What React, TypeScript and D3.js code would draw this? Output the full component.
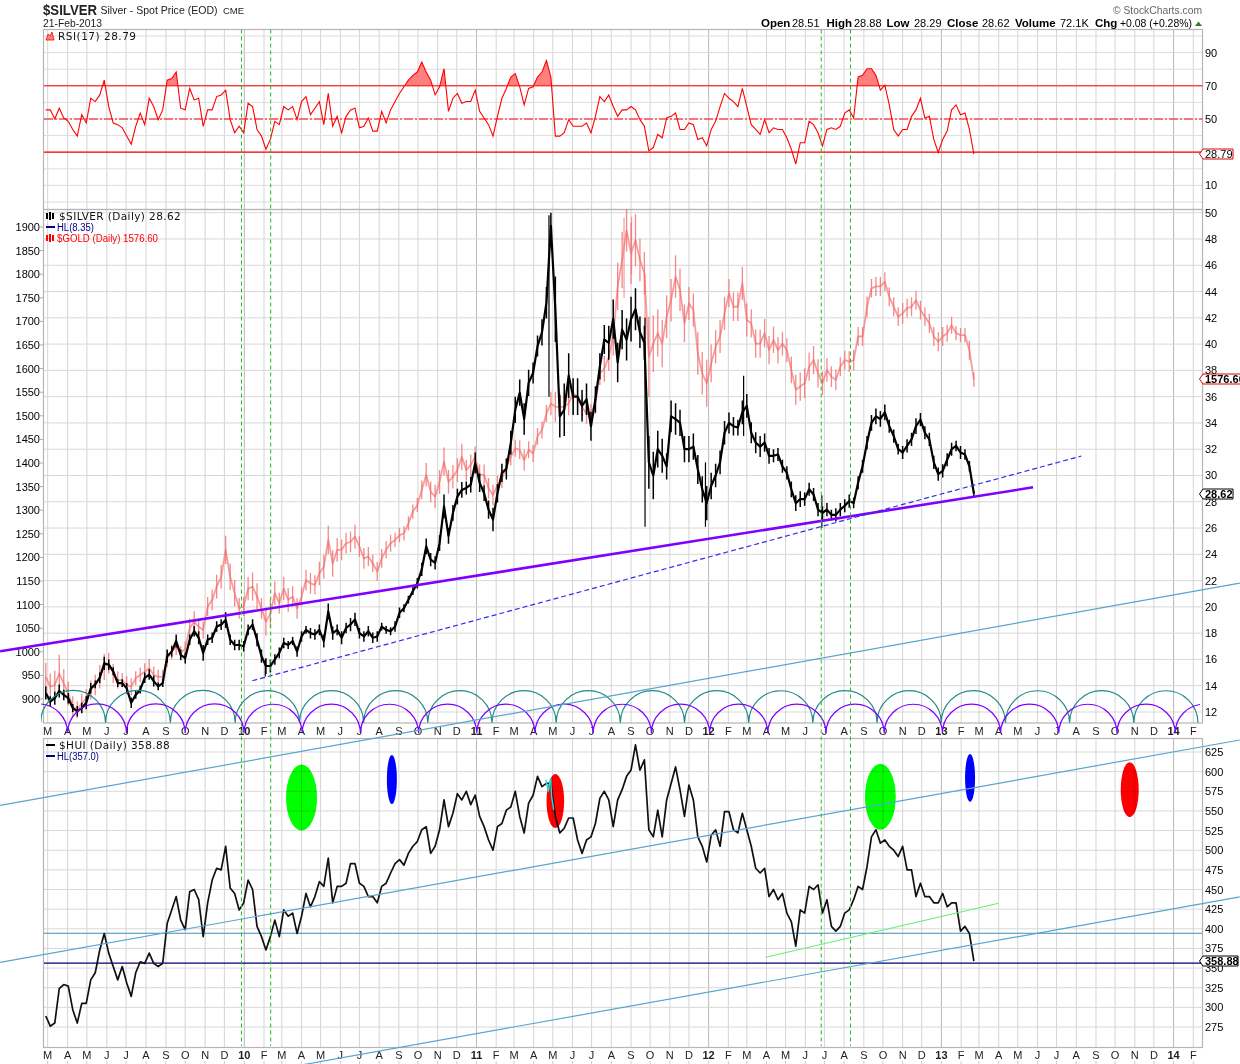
import React from "react";
import * as d3 from "d3";

// Weekly readings (Thursdays), 26 Feb 2009 .. 21 Feb 2013
const silverClose = [
  13.45,12.8,13.05,13.6,13.3,13.05,12.3,12.05,12.3,12.7,
  13.8,14.1,14.6,15.7,15.6,15.1,14.2,14.2,13.8,12.7,
  13.3,13.7,14.6,14.85,14.35,13.95,14.2,16.25,16.6,17.4,
  16.35,16.1,17.5,18.15,17.65,16.5,17.5,17.65,18.5,18.65,
  19.0,17.5,17.1,17.1,17.0,18.25,18.65,17.5,16.25,15.5,
  15.5,16,16.5,17.25,17.1,17.4,16.6,17.75,18.25,18,
  17.9,18.25,17.4,19.65,18,18.25,17.65,18.4,18.65,19.05,
  18,17.75,18.15,17.65,17.75,18.5,18.25,18.15,18.5,19.55,
  19.9,20.55,21.2,21.8,22.85,24.6,23.6,23.35,24.85,27.65,
  25.4,27.15,28.4,28.9,29.05,29.3,30.95,29.45,28.65,27.4,
  26.65,28.65,30.2,30.5,32.5,35,36.3,34.3,37.05,37.8,
  39.85,40.9,43.15,49,42.65,34.5,35,37.6,36,36,
  35.3,35.8,33.75,35.8,38.3,40.35,40.1,41.9,38.6,41.1,
  40.35,41.9,42.65,40.9,40.1,31,30,32,31.5,30.7,
  34.5,34.3,34,32,32,32.2,30.45,28.95,27.9,29.2,
  30,31,33.25,34,33.75,33.65,34.8,35.3,33.25,32.5,
  32.2,32.5,31.5,31.5,31.6,30.7,30.2,28.95,27.9,28.2,
  28.2,28.95,28.55,27.4,27.15,27.4,27,27,27.4,27.7,
  28.05,27.9,29.45,30.7,32.5,34,34.5,34.3,34.8,33.75,
  33,32,31.75,32.25,32.75,33.75,34.25,33.25,32.75,31,
  30.1,30.35,31.2,32,32.25,31.75,31.6,30.7,28.62,
];
// half height of each week's visible trading range
const silverSwing = [
  .5,.4,.5,.5,.4,.4,.3,.4,.4,.5,
  .4,.3,.4,.5,.4,.3,.3,.3,.4,.4,
  .3,.3,.4,.4,.4,.3,.3,.5,.4,.5,
  .4,.4,.4,.4,.5,.6,.4,.4,.4,.4,
  .6,.4,.4,.4,.4,.4,.4,.5,.5,.6,
  .5,.4,.4,.4,.3,.3,.4,.4,.3,.4,
  .4,.4,.5,.6,.5,.4,.5,.4,.5,.5,
  .4,.4,.4,.4,.4,.3,.3,.3,.4,.4,
  .3,.3,.3,.4,.5,.6,.5,.5,.6,.9,
  .6,.6,.6,.6,.5,.6,.8,.7,.6,.7,
  .9,.7,.7,.8,.9,1,1,1.2,1,.8,
  .8,1,1.2,1,2.5,1.6,2,1.7,1.4,1.4,
  1.2,1.2,1.1,1,1,1.1,1.3,1.5,1.5,1.5,
  1.6,1.7,1.6,1.2,1.3,2,1.8,1.4,1.3,1,
  1.2,1.2,1,1,1,1,1.1,1,1.3,1,
  .9,.9,.9,.8,.7,.6,.9,.9,.8,.8,
  .8,.7,.6,.5,.5,.5,.5,.6,.6,.6,
  .5,.5,.5,.5,.5,.5,.4,.5,.5,.5,
  .5,.4,.5,.5,.5,.6,.6,.6,.6,.5,
  .5,.4,.5,.5,.5,.6,.5,.5,.5,.5,
  .5,.5,.5,.5,.4,.5,.4,.4,.2,
];
const goldClose = [
  947,926,930,954,933,912,884,877,891,901,
  919,930,947,968,976,954,940,940,930,926,
  944,951,958,965,951,947,947,986,1000,1011,
  997,1007,1050,1064,1053,1046,1096,1110,1138,1159,
  1216,1159,1124,1092,1096,1134,1138,1117,1092,1064,
  1081,1124,1103,1134,1110,1117,1092,1117,1152,1145,
  1142,1166,1180,1237,1187,1216,1216,1230,1233,1244,
  1223,1198,1202,1187,1170,1198,1216,1230,1237,1247,
  1251,1272,1297,1311,1343,1375,1339,1329,1360,1403,
  1360,1371,1385,1413,1385,1396,1413,1375,1375,1346,
  1332,1353,1367,1392,1413,1431,1428,1406,1428,1420,
  1456,1470,1505,1526,1519,1519,1519,1526,1548,1540,
  1519,1505,1505,1526,1590,1600,1625,1668,1774,1830,
  1893,1844,1872,1830,1802,1625,1653,1675,1653,1710,
  1745,1795,1767,1696,1738,1724,1632,1590,1569,1611,
  1646,1668,1717,1760,1731,1731,1781,1703,1696,1653,
  1653,1675,1639,1661,1639,1653,1639,1597,1555,1562,
  1569,1604,1618,1590,1569,1597,1583,1576,1604,1618,
  1615,1618,1668,1668,1731,1770,1774,1774,1784,1752,
  1731,1710,1717,1728,1731,1745,1724,1710,1696,1668,
  1657,1668,1675,1692,1675,1671,1671,1639,1576.6,
];
const goldSwing = [
  30,28,30,40,30,25,22,18,20,20,
  20,22,25,28,22,20,18,15,18,18,
  15,15,18,20,18,15,15,18,15,18,
  15,15,20,22,15,18,20,22,25,25,
  30,28,28,22,20,25,30,28,22,30,
  30,25,22,25,25,22,22,20,22,22,
  20,25,25,30,28,25,22,22,22,25,
  22,22,20,18,20,20,18,18,15,15,
  15,15,15,15,20,25,22,25,25,30,
  25,25,25,28,22,22,22,22,22,22,
  22,20,20,18,18,18,20,22,18,18,
  18,18,18,25,32,30,30,25,22,22,
  20,22,20,22,25,28,30,40,50,60,
  45,65,55,45,45,85,60,50,50,45,
  45,45,45,40,35,35,45,45,50,40,
  35,35,35,30,30,30,35,35,30,30,
  30,30,30,28,28,25,25,28,32,30,
  32,30,30,30,25,25,22,22,20,20,
  22,22,20,20,22,20,20,20,20,20,
  20,20,22,20,20,20,20,20,20,20,
  20,20,18,18,15,15,15,20,15,
];
const huiClose = [
  289,276,280,324,329,327,297,280,305,305,
  335,344,373,394,369,352,335,352,331,314,
  344,358,356,369,356,352,356,407,424,441,
  411,399,447,450,437,390,433,462,477,475,
  505,452,445,424,433,462,450,403,390,373,
  390,411,390,424,416,420,394,416,445,428,
  441,460,454,490,433,454,454,458,483,483,
  458,454,441,441,433,454,458,471,483,488,
  481,496,505,511,526,530,496,505,526,564,
  530,547,572,564,575,558,570,543,530,513,
  500,530,534,551,555,575,543,522,560,570,
  594,581,585,585,543,522,528,541,541,513,
  496,513,517,534,566,575,564,530,564,577,
  594,602,634,602,615,526,517,551,517,564,
  585,606,577,543,583,564,517,505,485,519,
  526,505,549,549,526,522,547,526,505,477,
  471,477,441,450,437,445,420,409,378,424,
  420,454,450,456,420,437,403,397,403,420,
  424,437,454,450,479,517,526,509,513,505,
  500,492,505,475,475,441,458,441,441,433,
  433,445,428,433,433,397,403,394,358.88,
];
const rsiValues = [
  55.5,55.5,50,56.5,50.6,48.6,43.7,39.7,52.6,47.6,
  62.5,60.5,64.5,73.4,57.5,47.6,46.6,44.7,39.7,34.8,
  45.6,53.6,46.6,62.5,57.5,49.6,55.5,73.4,74.4,78.3,
  56.5,55.5,68.4,61.5,62.5,45.6,55.5,55.5,63.5,64.5,
  67.4,49.6,41.7,45.6,41.7,59.5,57.5,43.7,39.7,31.8,
  37.7,48.6,46.6,57.5,55.5,57.5,49.6,60.5,63.5,52.6,
  56.5,60.5,46.6,65.4,45.6,51.6,41.7,51.6,55.5,56.5,
  44.7,45.6,50.6,42.7,42.7,54.6,47.6,55.5,60.5,65.4,
  69.4,73.4,76.3,78.3,84.3,78.3,73.4,64.5,69.4,80.3,
  54.6,62.5,65.4,59.5,60.5,60.5,67.4,54.6,50.6,46.6,
  39.7,51.6,62.5,68.4,75.3,77.3,69.4,58.5,68.4,69.4,
  75.3,78.3,85.2,75.3,39.7,39.7,41.7,49.6,45.6,45.6,
  45.6,47.6,41.7,51.6,63.5,60.5,64.5,57.5,51.6,55.5,
  55.5,57.5,55.5,49.6,45.6,30.8,32.8,40.7,38.7,50.6,
  51.6,53.6,43.7,43.7,47.6,46.6,37.7,38.7,33.8,43.7,
  48.6,57.5,65.4,62.5,60.5,57.5,68.4,57.5,46.6,43.7,
  40.7,49.6,41.7,44.7,43.7,43.7,38.7,31.8,22.9,35.7,
  35.7,48.6,46.6,41.7,33.8,43.7,44.7,43.7,45.6,53.6,
  55.5,50.6,75.3,76.3,80.3,80.3,76.3,67.4,70.4,58.5,
  43.7,39.7,43.7,43.7,51.6,55.5,62.5,50.6,51.6,37.7,
  29.8,37.7,42.7,55.5,58.5,52.6,53.6,43.7,28.79,
];

// day = days since 1 Jan 2010
const silverWicks = [
  { day: 630, low: 26.1, high: 42 },
  { day: 725, low: 26.1, high: 31 },
  { day: 479, low: 36, high: 49.8 },
  { day: 785, low: 33, high: 37.6 },
  { day: 908, low: 26, high: 28.5 },
  { day: 33, low: 14.7, high: 16 },
];
const goldWicks = [
  { day: 597, low: 1750, high: 1920 },
  { day: 609, low: 1800, high: 1922 },
  { day: 630, low: 1555, high: 1800 },
];
const purpleTrend = [{ day: -380, v: 16.62 }, { day: 1240, v: 29.1 }];
const blueDashTrend = [{ day: 12.6, v: 14.38 }, { day: 1316, v: 31.48 }];
const channelA = [{ day: -380, v: 557 }, { day: 1565, v: 840 }];
const channelB = [{ day: -380, v: 357.2 }, { day: 1565, v: 640.3 }];
const channelC = [{ day: -380, v: 158 }, { day: 1565, v: 440.5 }];
const greenTrend = [{ day: 819.6, v: 363.8 }, { day: 1185.8, v: 432.5 }];
const cyanTrace = [
  { day: 474.2, v: 589.4 }, { day: 477.9, v: 574.6 }, { day: 481.6, v: 591.5 },
  { day: 483.2, v: 568.2 }, { day: 486.4, v: 551.3 },
];
const cycleLines = [-4.4, 41.5, 907, 953];
const huiLevels = [{ v: 394.3, c: "#3a8fb7" }, { v: 356.3, c: "#000070" }];
const blobs = [
  { day: 90, v: 567, c: "#00ff00", rx: 15.5, ry: 33 },
  { day: 232, v: 590, c: "#0000ff", rx: 5, ry: 24.5 },
  { day: 489, v: 562.5, c: "#ff0000", rx: 8.8, ry: 27 },
  { day: 1000, v: 568, c: "#00ff00", rx: 15.4, ry: 33 },
  { day: 1141, v: 592, c: "#0000ff", rx: 5, ry: 24 },
  { day: 1392, v: 577, c: "#ff0000", rx: 9, ry: 27.5 },
];
const rsiGrid = [100, 90, 80, 70, 60, 50, 40, 30, 20, 10, 0];
const rsiLabels = [90, 70, 50, 10];
const silverLabels = d3.range(12, 51, 2);
const goldLabels = d3.range(900, 1901, 50);
const huiLabels = d3.range(275, 626, 25);
const monthLetters = ["", "F", "M", "A", "M", "J", "J", "A", "S", "O", "N", "D"];

const SANS = "'Liberation Sans', Arial, sans-serif";
const DEJA = "'DejaVu Sans', Verdana, sans-serif";
const L = 44, R = 1202.5;
const jan2010 = new Date(2010, 0, 1);

const x = d3.scaleTime()
  .domain([new Date(2009, 2, 1), jan2010, new Date(2014, 0, 1)])
  .range([47.7, 244.3, 1173.6]);
const dayX = (day: number) => x(jan2010.getTime() + day * 864e5);
const dates = silverClose.map((_, i) => d3.timeDay.offset(new Date(2009, 1, 26), i * 7));

const yRsi = d3.scaleLinear().domain([50, 90]).range([119, 52.6]);
const ySilver = d3.scaleLinear().domain([12, 50]).range([712, 212.7]);
const yGold = d3.scaleLinear().domain([900, 1900]).range([699, 227]);
const yHui = d3.scaleLinear().domain([275, 625]).range([1027, 752]);

const lineOf = (vals: number[], y: (v: number) => number) =>
  d3.line<number>().x((_, i) => x(dates[i])).y(v => y(v))(vals) as string;
const segOf = (pts: { day: number; v: number }[], y: (v: number) => number) =>
  d3.line<{ day: number; v: number }>().x(p => dayX(p.day)).y(p => y(p.v))(pts) as string;
const rsiArea = d3.area<number>().x((_, i) => x(dates[i])).y0(yRsi(70)).y1(v => yRsi(v))(rsiValues) as string;
const barsOf = (vals: number[], swing: number[], y: (v: number) => number) =>
  vals.map((v, i) => `M${x(dates[i])},${y(v - swing[i])}V${y(v + swing[i])}`).join("");

const arcs = (firstFoot: Date, period: number, n: number, cy: number) => {
  let d = "";
  for (let k = -1; k < n; k++) {
    const a = x(firstFoot.getTime() + k * period * 864e5);
    const b = x(firstFoot.getTime() + (k + 1) * period * 864e5);
    const r = (b - a) / 2;
    d += `M${a},${cy}A${r},${r} 0 0 1 ${b},${cy}`;
  }
  return d;
};

const months = d3.timeMonth.range(new Date(2009, 2, 1), new Date(2014, 1, 2));

const Tag = ({ y, w, text, color, bold }: { y: number; w: number; text: string; color: string; bold?: boolean }) => (
  <g>
    <polygon points={`1199.5,${y} 1203,${y - 5} ${1203 + w},${y - 5} ${1203 + w},${y + 5} 1203,${y + 5}`} fill="#fff" stroke={color} strokeWidth={1} />
    <text x={1205} y={y + 4} fontSize={11} fontWeight={bold ? "bold" : "normal"} fontFamily={SANS} fill="#000">{text}</text>
  </g>
);

const T = ({ x: tx, y, s = 11, w, c = "#000", a, f = SANS, ls, tl, children }: any) => (
  <text x={tx} y={y} fontSize={s} fontWeight={w} fill={c} textAnchor={a} fontFamily={f} letterSpacing={ls} textLength={tl} lengthAdjust={tl ? "spacingAndGlyphs" : undefined}>{children}</text>
);

const panelBands = [[29.5, 209.5], [209.5, 723], [738.5, 1047.5]];

export default function App() {
  return (
    <svg width={1240} height={1064} style={{ position: "absolute", left: 0, top: 0, background: "#fff" }}>
      <defs>
        <clipPath id="above70"><rect x={L} y={29} width={R - L} height={yRsi(70) - 29} /></clipPath>
        <clipPath id="cycleClip"><rect x={41} y={680} width={1159} height={57} /></clipPath>
      </defs>

      {/* header */}
      <T x={43} y={15} s={15} w="bold" c="#222" tl={54}>$SILVER</T>
      <T x={100.5} y={14} s={10.8} c="#222" tl={117}>Silver - Spot Price (EOD)</T>
      <T x={223} y={14} s={9.5} c="#222">CME</T>
      <T x={43} y={27} s={11} c="#222" tl={59}>21-Feb-2013</T>
      <T x={1202} y={14} s={10.5} a="end" c="#666" tl={89}>© StockCharts.com</T>
      <T x={761} y={27} s={11.5} w="bold">Open</T><T x={792} y={27} s={11}>28.51</T>
      <T x={826.5} y={27} s={11.5} w="bold">High</T><T x={854} y={27} s={11}>28.88</T>
      <T x={886.5} y={27} s={11.5} w="bold">Low</T><T x={914} y={27} s={11}>28.29</T>
      <T x={947} y={27} s={11.5} w="bold">Close</T><T x={982} y={27} s={11}>28.62</T>
      <T x={1015} y={27} s={11.5} w="bold">Volume</T><T x={1060} y={27} s={11}>72.1K</T>
      <T x={1095} y={27} s={11.5} w="bold">Chg</T><T x={1120} y={27} s={11} tl={72}>+0.08 (+0.28%)</T>
      <polygon points="1195,26 1198.5,21.5 1202,26" fill="#2e7d32" />

      {/* vertical grid */}
      {months.map((m, i) => {
        const px = x(m);
        const jan = m.getMonth() === 0;
        const label = jan ? String(m.getFullYear()).slice(2) : monthLetters[m.getMonth()];
        return (
          <g key={i}>
            {panelBands.map((b, j) => (
              <line key={j} x1={px} x2={px} y1={b[0]} y2={b[1]} stroke={jan ? "#b8b8b8" : "#d4d4d4"} strokeWidth={1} />
            ))}
            <line x1={px} x2={px} y1={1061} y2={1064} stroke="#ccc" />
            <text x={px} y={735} textAnchor="middle" fontFamily={SANS} fontSize={11} fontWeight={jan ? "bold" : "normal"} fill="#222">{label}</text>
            <text x={px} y={1059} textAnchor="middle" fontFamily={SANS} fontSize={11} fontWeight={jan ? "bold" : "normal"} fill="#222">{label}</text>
          </g>
        );
      })}

      {/* horizontal grid & axes */}
      {rsiGrid.map(v => <line key={v} x1={L} x2={R} y1={yRsi(v)} y2={yRsi(v)} stroke="#dcdcdc" />)}
      {rsiLabels.map(v => <T key={v} x={1205} y={yRsi(v) + 4}>{v}</T>)}
      {silverLabels.map(v => (
        <g key={v}>
          <line x1={L} x2={R} y1={ySilver(v)} y2={ySilver(v)} stroke="#d8d8d8" />
          <T x={1205} y={ySilver(v) + 4}>{v}</T>
        </g>
      ))}
      {goldLabels.map(v => (
        <g key={v}>
          <line x1={40} x2={44} y1={yGold(v)} y2={yGold(v)} stroke="#aaa" />
          <T x={40} y={yGold(v) + 4} a="end">{v}</T>
        </g>
      ))}
      {huiLabels.map(v => (
        <g key={v}>
          <line x1={L} x2={R} y1={yHui(v)} y2={yHui(v)} stroke="#d8d8d8" />
          <T x={1205} y={yHui(v) + 4}>{v}</T>
        </g>
      ))}

      {/* frames */}
      {panelBands.map((b, i) => (
        <rect key={i} x={43.5} y={b[0]} width={R - 43.5} height={b[1] - b[0]} fill="none" stroke="#b5b5b5" strokeWidth={1.2} />
      ))}

      {/* RSI */}
      <path d={rsiArea} fill="#ff7f7f" clipPath="url(#above70)" />
      <line x1={L} x2={R} y1={yRsi(70)} y2={yRsi(70)} stroke="#f00" strokeWidth={1} />
      <line x1={L} x2={R} y1={yRsi(50)} y2={yRsi(50)} stroke="#f00" strokeWidth={1} strokeDasharray="9 2 2 2" />
      <line x1={L} x2={R} y1={yRsi(30)} y2={yRsi(30)} stroke="#f00" strokeWidth={1.2} />
      <path d={lineOf(rsiValues, yRsi)} fill="none" stroke="#f00" strokeWidth={1.1} />

      {/* blobs */}
      {blobs.map((b, i) => (
        <ellipse key={i} cx={dayX(b.day)} cy={yHui(b.v)} rx={b.rx} ry={b.ry} fill={b.c} style={{ mixBlendMode: "multiply" }} />
      ))}

      {/* main panel */}
      {goldWicks.map((w, i) => (
        <line key={i} x1={dayX(w.day)} x2={dayX(w.day)} y1={yGold(w.low)} y2={yGold(w.high)} stroke="#f46a6a" strokeOpacity={0.8} strokeWidth={1} />
      ))}
      <path d={lineOf(goldClose, yGold)} fill="none" stroke="#f47c7c" strokeOpacity={0.75} strokeWidth={1.8} strokeLinejoin="round" />
      <path d={barsOf(goldClose, goldSwing, yGold)} fill="none" stroke="#f26a6a" strokeOpacity={0.8} strokeWidth={1.3} />
      {silverWicks.map((w, i) => (
        <line key={i} x1={dayX(w.day)} x2={dayX(w.day)} y1={ySilver(w.low)} y2={ySilver(w.high)} stroke="#000" strokeWidth={1.2} />
      ))}
      <path d={lineOf(silverClose, ySilver)} fill="none" stroke="#000" strokeWidth={2.2} strokeLinejoin="round" />
      <path d={barsOf(silverClose, silverSwing, ySilver)} fill="none" stroke="#000" strokeWidth={1.5} />

      <g clipPath="url(#cycleClip)" fill="none" strokeWidth={1.2}>
        <path d={arcs(new Date(2009, 4, 30), 100.9, 17, 722.8)} stroke="#1f8a8a" />
        <path d={arcs(new Date(2009, 3, 1), 91.5, 20, 733.3)} stroke="#8000ff" />
      </g>

      {/* HUI */}
      {huiLevels.map((l, i) => <line key={i} x1={L} x2={R} y1={yHui(l.v)} y2={yHui(l.v)} stroke={l.c} strokeWidth={1.1} />)}
      <path d={lineOf(huiClose, yHui)} fill="none" stroke="#111" strokeWidth={1.7} strokeLinejoin="round" />
      <path d={segOf(cyanTrace, yHui)} fill="none" stroke="#22dddd" strokeWidth={1.4} />

      {/* annotations */}
      {[channelA, channelB, channelC].map((c, i) => (
        <path key={i} d={segOf(c, yHui)} fill="none" stroke="#58a5cf" strokeWidth={1.2} />
      ))}
      <path d={segOf(greenTrend, yHui)} fill="none" stroke="#66ee77" strokeWidth={1.2} />
      <path d={segOf(purpleTrend, ySilver)} fill="none" stroke="#8000ff" strokeWidth={2.6} />
      <path d={segOf(blueDashTrend, ySilver)} fill="none" stroke="#2f2fee" strokeWidth={1.2} strokeDasharray="5 3" />
      {cycleLines.map(d => (
        <line key={d} x1={dayX(d)} x2={dayX(d)} y1={29.5} y2={1046} stroke="#22bb22" strokeWidth={1} strokeDasharray="4 3" />
      ))}

      {/* legends */}
      <path d="M46,40 L48,34 L50,36 L52,32 L54,40 Z" fill="#ff7f7f" stroke="#f00" strokeWidth={0.8} />
      <T x={58} y={40} s={10.5} ls={0.5} f={DEJA} c="#111">RSI(17) 28.79</T>
      <path d="M47,213 v6 M50,212 v8 M53,213 v6" stroke="#000" strokeWidth={2} />
      <T x={59} y={220} s={10.5} ls={0.4} f={DEJA} c="#111">$SILVER (Daily) 28.62</T>
      <line x1={46} x2={55} y1={227} y2={227} stroke="#000080" strokeWidth={2} />
      <T x={57} y={231} s={10} c="#000080" tl={37}>HL(8.35)</T>
      <path d="M47,235 v6 M50,234 v8 M53,235 v6" stroke="#f00" strokeWidth={2} />
      <T x={57} y={241.5} s={10} c="#f00" tl={101}>$GOLD (Daily) 1576.60</T>
      <line x1={46} x2={55} y1={745} y2={745} stroke="#000" strokeWidth={2} />
      <T x={59} y={749} s={10.5} ls={0.4} f={DEJA} c="#111">$HUI (Daily) 358.88</T>
      <line x1={46} x2={55} y1={756} y2={756} stroke="#000080" strokeWidth={2} />
      <T x={57} y={760} s={10} c="#000080" tl={42}>HL(357.0)</T>

      {/* value tags */}
      <Tag y={154} w={30} text="28.79" color="#e00000" />
      <Tag y={379} w={40} text="1576.60" color="#e00000" bold />
      <Tag y={494} w={30} text="28.62" color="#000" bold />
      <Tag y={961} w={35} text="358.88" color="#000" bold />
    </svg>
  );
}
